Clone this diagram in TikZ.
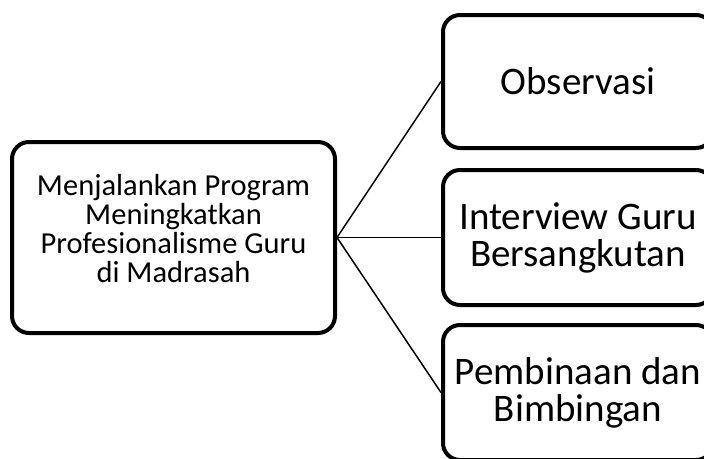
\documentclass[tikz,border=0pt]{standalone}
\usepackage{fontspec}
\setmainfont{Carlito}

\begin{document}
\begin{tikzpicture}[x=1pt, y=-1pt,
    box/.style={draw, line width=4pt, rounded corners=17pt, align=center, inner sep=0pt},
    link/.style={line width=1.5pt}]
    \useasboundingbox (0,0) rectangle (704,458);
    \clip (0,0) rectangle (704,458);

    \node[box, minimum width=323pt, minimum height=191pt, text depth=18pt, font=\fontsize{30.5}{29}\selectfont] at (173.5, 237.5) (P) {Menjalankan Program\\Meningkatkan\\Profesionalisme Guru\\di Madrasah};
    \node[box, minimum width=270pt, minimum height=133pt, font=\fontsize{39}{37}\selectfont] at (578, 81.5) (O) {Observasi};
    \node[box, minimum width=270pt, minimum height=135pt, font=\fontsize{39}{37}\selectfont] at (578, 237.5) (I) {Interview Guru\\Bersangkutan};
    \node[box, minimum width=270pt, minimum height=135pt, font=\fontsize{39}{37}\selectfont] at (578, 392.5) (B) {Pembinaan dan\\Bimbingan};

    \draw[link] (P.east) -- (O.west);
    \draw[link] (P.east) -- (I.west);
    \draw[link] (P.east) -- (B.west);
\end{tikzpicture}
\end{document}
